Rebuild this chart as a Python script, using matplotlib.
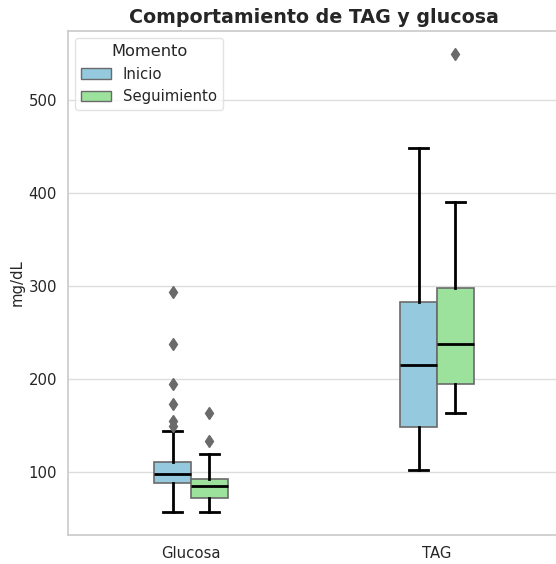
import matplotlib
matplotlib.use("Agg")
import matplotlib.pyplot as plt
import matplotlib.colors as mcolors
import colorsys
from matplotlib.patches import Patch

categories = ["Glucosa", "TAG"]
hues = ["Inicio", "Seguimiento"]
hue_colors = ["skyblue", "lightgreen"]

# [category][hue]
whislo = [[57, 57], [102, 164]]
q1 = [[88, 72], [148, 195]]
med = [[98, 85], [215, 238]]
q3 = [[111, 93], [283, 298]]
whishi = [[144, 119], [448, 390]]
fliers = [[[294, 238, 195, 173, 155, 150], [164, 134]], [[], [549]]]


def desat(c, s=0.75):
    r, g, b = mcolors.to_rgb(c)
    h, l, sat = colorsys.rgb_to_hls(r, g, b)
    return colorsys.hls_to_rgb(h, l, sat * s)


plt.rcParams.update({
    "font.family": ["DejaVu Sans"],
    "axes.edgecolor": "#cccccc",
    "axes.linewidth": 1.25,
    "text.color": "#262626",
    "axes.labelcolor": "#262626",
    "xtick.color": "#262626",
    "ytick.color": "#262626",
})

fig = plt.figure(figsize=(5.56, 5.64), dpi=100)
W, H = 556, 564
ax = fig.add_axes([68 / W, (H - 535) / H, (560 - 68) / W, (535 - 31) / H])

width = 0.3
nh = len(hues)
bw = width / nh
for ci, cat in enumerate(categories):
    for hi, hue in enumerate(hues):
        pos = ci - width / 2 + bw / 2 + hi * bw
        stats = [{
            "whislo": whislo[ci][hi], "q1": q1[ci][hi], "med": med[ci][hi],
            "q3": q3[ci][hi], "whishi": whishi[ci][hi], "fliers": fliers[ci][hi],
        }]
        ax.bxp(stats, positions=[pos], widths=bw * 0.98, patch_artist=True,
               showfliers=True, capwidths=bw / 2,
               boxprops=dict(facecolor=desat(hue_colors[hi]), edgecolor="#6a6a6a", linewidth=1.2),
               whiskerprops=dict(color="black", linewidth=2.0),
               capprops=dict(color="black", linewidth=2.0),
               medianprops=dict(color="black", linewidth=2.0),
               flierprops=dict(marker="d", markerfacecolor="#6a6a6a", markeredgecolor="#6a6a6a",
                               markersize=6.5, linestyle="none"),
               zorder=3)

fs = 10.7
ax.set_xlim(-0.5, 1.5)
ax.set_ylim(32.5, 574)
ax.set_xticks(range(len(categories)))
ax.set_xticklabels(categories, fontsize=fs)
ax.set_yticks([100, 200, 300, 400, 500])
ax.tick_params(axis="y", labelsize=fs, length=0, pad=8)
ax.tick_params(axis="x", length=0, pad=8)
ax.grid(axis="y", color="#dddddd", linewidth=1.0, zorder=0)
ax.grid(axis="x", visible=False)
ax.set_axisbelow(True)
ax.set_ylabel("mg/dL", fontsize=fs, labelpad=3)
ax.set_title("Comportamiento de TAG y glucosa", fontsize=13.7, fontweight="bold", pad=6)

handles = [Patch(facecolor=desat(c), edgecolor="#6a6a6a", linewidth=1.0) for c in hue_colors]
ax.legend(handles, hues, title="Momento", loc="upper left", fontsize=fs, title_fontsize=11.7,
          frameon=True, edgecolor="#dddddd")

fig.savefig("out.png", dpi=100)
